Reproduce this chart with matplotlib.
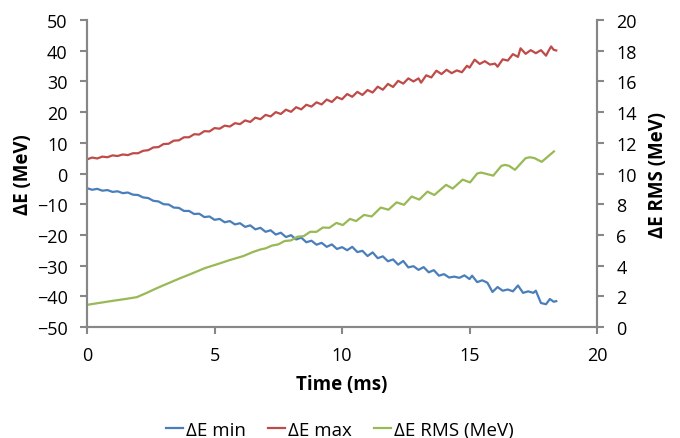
import numpy as np
import matplotlib
matplotlib.use("Agg")
import matplotlib.pyplot as plt

plt.rcParams['font.family'] = ['Open Sans', 'DejaVu Sans']

# dE max (left axis, MeV)
t_max = [0.0, 0.2, 0.4, 0.6, 0.8, 1.0, 1.2, 1.4, 1.6, 1.8, 2.0, 2.2, 2.4, 2.6, 2.8,
         3.0, 3.2, 3.4, 3.6, 3.8, 4.0, 4.2, 4.4, 4.6, 4.8, 5.0, 5.2, 5.4, 5.6, 5.8,
         6.0, 6.2, 6.4, 6.6, 6.8, 7.0, 7.2, 7.4, 7.6, 7.8, 8.0, 8.2, 8.4, 8.6, 8.8,
         9.0, 9.2, 9.4, 9.6, 9.8, 10.0, 10.2, 10.4, 10.6, 10.8, 11.0, 11.2, 11.4,
         11.6, 11.8, 12.0, 12.2, 12.4, 12.6, 12.8, 13.0, 13.1, 13.3, 13.5, 13.7,
         13.9, 14.1, 14.3, 14.5, 14.7, 14.9, 15.0, 15.2, 15.4, 15.6, 15.8, 16.0,
         16.1, 16.3, 16.5, 16.7, 16.9, 17.0, 17.2, 17.4, 17.6, 17.8, 17.9, 18.0,
         18.1, 18.2, 18.3, 18.4]
e_max = [4.6, 5.2, 4.9, 5.5, 5.3, 5.9, 5.7, 6.2, 6.0, 6.6, 6.6, 7.4, 7.6, 8.5, 8.6,
         9.6, 9.7, 10.7, 10.8, 11.8, 11.8, 12.8, 12.7, 13.8, 13.7, 14.8, 14.6, 15.6,
         15.3, 16.4, 16.1, 17.3, 16.8, 18.2, 17.7, 19.1, 18.6, 20.0, 19.4, 20.8,
         20.1, 21.6, 20.9, 22.4, 21.8, 23.2, 22.5, 24.1, 23.3, 24.9, 24.2, 25.9,
         25.0, 26.6, 25.6, 27.2, 26.4, 28.3, 27.3, 29.2, 28.2, 30.2, 29.3, 31.0,
         30.0, 31.0, 29.6, 32.0, 31.3, 33.5, 32.4, 33.8, 32.7, 33.6, 33.0, 35.1,
         34.5, 37.1, 35.7, 36.6, 35.5, 35.8, 34.8, 37.2, 36.8, 38.9, 38.0, 40.8,
         39.0, 40.2, 39.2, 40.2, 39.3, 38.4, 40.0, 41.4, 40.3, 40.1]

# dE min (left axis, MeV)
t_min = [0.0, 0.2, 0.4, 0.6, 0.8, 1.0, 1.2, 1.4, 1.6, 1.8, 2.0, 2.2, 2.4, 2.6, 2.8,
         3.0, 3.2, 3.4, 3.6, 3.8, 4.0, 4.2, 4.4, 4.6, 4.8, 5.0, 5.2, 5.4, 5.6, 5.8,
         6.0, 6.2, 6.4, 6.6, 6.8, 7.0, 7.2, 7.4, 7.6, 7.8, 8.0, 8.2, 8.4, 8.6, 8.8,
         9.0, 9.2, 9.4, 9.6, 9.8, 10.0, 10.2, 10.4, 10.6, 10.8, 11.0, 11.2, 11.4,
         11.6, 11.8, 12.0, 12.2, 12.4, 12.6, 12.8, 13.0, 13.2, 13.4, 13.6, 13.8,
         14.0, 14.2, 14.4, 14.6, 14.8, 15.0, 15.1, 15.3, 15.5, 15.7, 15.9, 16.1,
         16.3, 16.5, 16.7, 16.9, 17.1, 17.3, 17.5, 17.6, 17.8, 18.0, 18.15, 18.3, 18.4]
e_min = [-4.8, -5.3, -5.0, -5.6, -5.4, -6.0, -5.8, -6.4, -6.2, -6.9, -7.0, -7.8,
         -8.0, -8.9, -9.1, -10.0, -10.1, -11.1, -11.2, -12.2, -12.2, -13.2, -13.1,
         -14.2, -14.0, -15.1, -14.8, -15.9, -15.5, -16.6, -16.2, -17.4, -16.9,
         -18.2, -17.7, -19.0, -18.5, -19.9, -19.3, -20.7, -20.1, -21.5, -20.9,
         -22.4, -21.9, -23.2, -22.6, -23.9, -23.1, -24.6, -24.0, -25.0, -23.9,
         -25.6, -25.2, -26.9, -25.7, -27.6, -27.0, -28.6, -28.0, -29.7, -28.5,
         -30.6, -30.2, -31.4, -30.5, -32.2, -31.5, -33.3, -32.8, -33.9, -33.6,
         -34.0, -33.2, -34.4, -33.3, -35.4, -34.8, -35.6, -38.6, -37.0, -38.2,
         -37.8, -38.4, -36.5, -38.9, -38.4, -38.9, -38.2, -42.2, -42.6, -40.9,
         -41.8, -41.6]

# dE RMS (right axis, MeV)
t_rms = [0.0, 0.5, 1.0, 1.5, 1.95, 2.34, 2.7, 3.12, 3.6, 4.17, 4.6, 5.2, 5.6, 6.13,
         6.5, 6.8, 7.0, 7.25, 7.5, 7.75, 8.0, 8.25, 8.5, 8.75, 9.0, 9.25, 9.5, 9.78,
         10.03, 10.31, 10.55, 10.86, 11.16, 11.52, 11.82, 12.14, 12.43, 12.73,
         13.03, 13.35, 13.62, 14.08, 14.34, 14.73, 15.02, 15.3, 15.45, 15.6, 15.93,
         16.25, 16.39, 16.55, 16.78, 17.2, 17.37, 17.55, 17.83, 18.31]
e_rms = [1.44, 1.57, 1.70, 1.82, 1.94, 2.22, 2.5, 2.8, 3.14, 3.52, 3.82, 4.14, 4.36,
         4.62, 4.88, 5.05, 5.12, 5.3, 5.38, 5.6, 5.64, 5.88, 5.92, 6.2, 6.2, 6.48,
         6.46, 6.78, 6.64, 7.04, 6.9, 7.3, 7.2, 7.78, 7.64, 8.12, 7.96, 8.5, 8.3,
         8.82, 8.6, 9.26, 9.02, 9.6, 9.42, 10.0, 10.06, 10.0, 9.86, 10.5, 10.56,
         10.5, 10.24, 11.0, 11.06, 11.0, 10.76, 11.44]

blue = '#4A7EBB'
red = '#BE4B48'
green = '#98B954'
axis_grey = '#878787'

fig = plt.figure(figsize=(6.8, 4.39), dpi=100)
ax = fig.add_axes([0.128, 0.253, 0.75, 0.699])
ax2 = ax.twinx()

l1, = ax.plot(t_min, e_min, color=blue, lw=1.6, label='ΔE min')
l2, = ax.plot(t_max, e_max, color=red, lw=1.6, label='ΔE max')
l3, = ax2.plot(t_rms, e_rms, color=green, lw=1.6, label='ΔE RMS (MeV)')

ax.set_xlim(0, 20)
ax.set_ylim(-50, 50)
ax.set_xticks([0, 5, 10, 15, 20])
ax.set_yticks(np.arange(-50, 51, 10))
ax2.set_ylim(0, 20)
ax2.set_yticks(np.arange(0, 21, 2))

for a in (ax, ax2):
    a.spines['top'].set_visible(False)
    for s in ('left', 'right', 'bottom'):
        a.spines[s].set_color(axis_grey)
        a.spines[s].set_linewidth(1.5)
    a.tick_params(colors=axis_grey, labelcolor='black', labelsize=13,
                  length=5, width=1.5, direction='out', pad=9)

ax.set_xlabel('Time (ms)', fontsize=13.5, fontweight='bold', labelpad=7)
ax.set_ylabel('ΔE (MeV)', fontsize=13.5, fontweight='bold', labelpad=3)
ax2.set_ylabel('ΔE RMS (MeV)', fontsize=13.5, fontweight='bold', labelpad=8)

fig.legend(handles=[l1, l2, l3], loc='lower center', bbox_to_anchor=(0.5, -0.04),
           ncol=3, frameon=False, fontsize=13.5, handlelength=0.9,
           handletextpad=0.15, columnspacing=1.2)

fig.savefig('out.png', dpi=100)
